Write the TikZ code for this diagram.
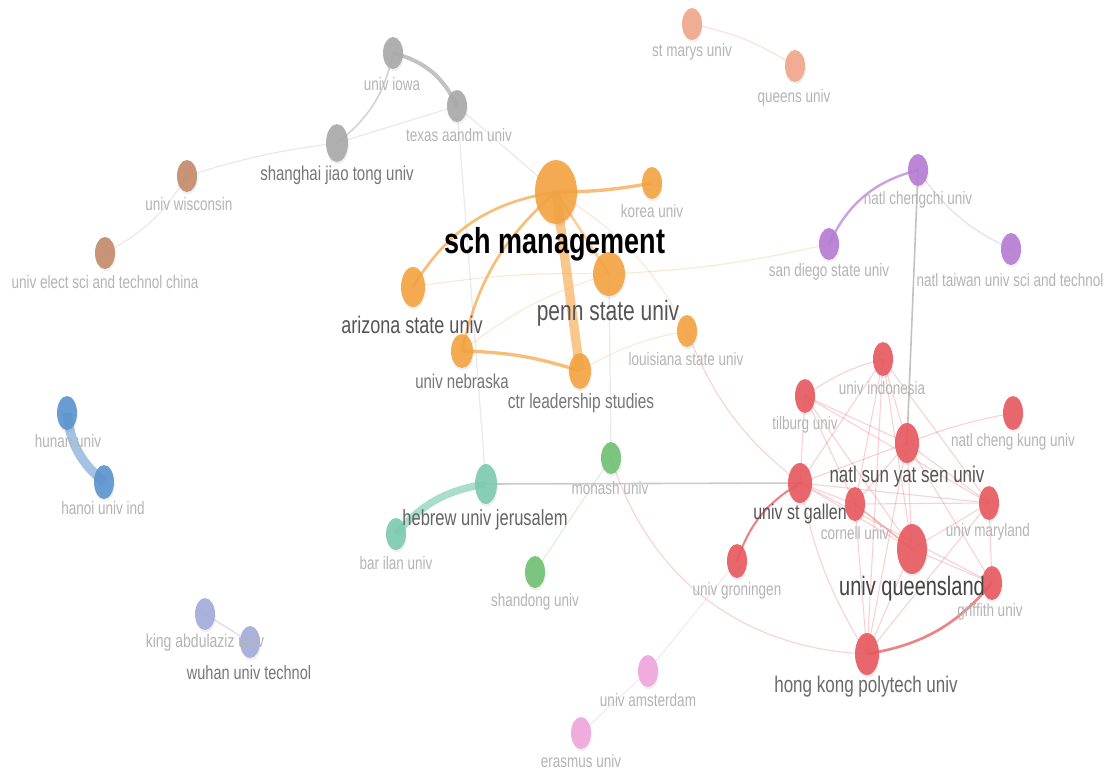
\documentclass[tikz,border=0pt]{standalone}
\usepackage{fontspec}
\setmainfont{Liberation Sans}[FakeStretch=0.75]
\usetikzlibrary{shapes.geometric,backgrounds,shadows}
\definecolor{cgray}{HTML}{A9A9A9}
\definecolor{cbrown}{HTML}{C48A6A}
\definecolor{csalmon}{HTML}{F2A68A}
\definecolor{corange}{HTML}{F4A340}
\definecolor{cpurple}{HTML}{B57BD3}
\definecolor{cblue}{HTML}{5B93CF}
\definecolor{cteal}{HTML}{7DCBB0}
\definecolor{cgreen}{HTML}{6FC172}
\definecolor{clav}{HTML}{A3ABDB}
\definecolor{cpink}{HTML}{EFA6DC}
\definecolor{cred}{HTML}{E8595F}
\definecolor{tlight}{HTML}{B4B4B4}
\definecolor{tmid}{HTML}{767676}
\definecolor{tdark}{HTML}{555555}
\begin{document}
\begin{tikzpicture}[x=0.75pt,y=-0.75pt,
  nd/.style={ellipse,inner sep=0pt,draw=none,fill opacity=0.9,
    drop shadow={shadow xshift=0.6pt,shadow yshift=-1.8pt,opacity=0.12}},
  sz/.style 2 args={minimum width=#1*1.5pt,minimum height=#2*1.5pt},
  lbl/.style={inner sep=0pt,text=tlight,font=\fontsize{13.5}{14}\selectfont},
  lblm/.style={inner sep=0pt,text=tmid,font=\fontsize{15}{16}\selectfont},
  lbld/.style={inner sep=0pt,text=tdark},
  eg/.style={draw=cgray,opacity=0.8,line width=1.2pt},
  egl/.style={draw=cgray,opacity=0.25,line width=0.9pt},
  eo/.style={draw=corange,opacity=0.7,line width=2pt},
  eol/.style={draw=corange,opacity=0.25,line width=0.8pt},
  er/.style={draw=cred,opacity=0.75,line width=1.6pt},
  erl/.style={draw=cred,opacity=0.28,line width=0.8pt},
]
\useasboundingbox (0,0) rectangle (1114,776);
% ---- nodes ----
\node[nd,fill=cgray,sz={10}{16}] (iowa) at (393,53) {};
\node[nd,fill=cgray,sz={10}{16}] (texas) at (457,106) {};
\node[nd,fill=cgray,sz={11}{19}] (shanghai) at (337,143) {};
\node[nd,fill=cbrown,sz={10}{16}] (wisc) at (187,176) {};
\node[nd,fill=cbrown,sz={10}{16}] (elect) at (105,253) {};
\node[nd,fill=csalmon,sz={10}{16}] (stmarys) at (692,24) {};
\node[nd,fill=csalmon,sz={10}{16}] (queens) at (795,66) {};
\node[nd,fill=corange,sz={21}{32}] (sch) at (556,192) {};
\node[nd,fill=corange,sz={10}{16}] (korea) at (652,183) {};
\node[nd,fill=corange,sz={12}{20}] (ari) at (413,287) {};
\node[nd,fill=corange,sz={16}{22}] (penn) at (609,274) {};
\node[nd,fill=corange,sz={10}{16}] (louis) at (687,331) {};
\node[nd,fill=corange,sz={11}{17}] (neb) at (462,351) {};
\node[nd,fill=corange,sz={11}{18}] (ctr) at (580,371) {};
\node[nd,fill=cpurple,sz={10}{16}] (chengchi) at (918,170) {};
\node[nd,fill=cpurple,sz={10}{16}] (sandiego) at (829,244) {};
\node[nd,fill=cpurple,sz={10}{16}] (taiwan) at (1011,249) {};
\node[nd,fill=cblue,sz={10}{17}] (hunan) at (67,413) {};
\node[nd,fill=cblue,sz={10}{17}] (hanoi) at (104,482) {};
\node[nd,fill=cteal,sz={11}{20}] (hebrew) at (486,484) {};
\node[nd,fill=cteal,sz={10}{16}] (barilan) at (396,534) {};
\node[nd,fill=cgreen,sz={10}{16}] (monash) at (611,458) {};
\node[nd,fill=cgreen,sz={10}{16}] (shandong) at (535,572) {};
\node[nd,fill=clav,sz={10}{16}] (king) at (205,614) {};
\node[nd,fill=clav,sz={10}{16}] (wuhan) at (250,642) {};
\node[nd,fill=cpink,sz={10}{16}] (amst) at (648,671) {};
\node[nd,fill=cpink,sz={10}{16}] (erasmus) at (581,733) {};
\node[nd,fill=cred,sz={10}{17}] (indon) at (883,359) {};
\node[nd,fill=cred,sz={10}{17}] (tilburg) at (805,396) {};
\node[nd,fill=cred,sz={10}{17}] (chengkung) at (1013,413) {};
\node[nd,fill=cred,sz={12}{20}] (sunyat) at (907,443) {};
\node[nd,fill=cred,sz={12}{20}] (stgallen) at (800,483) {};
\node[nd,fill=cred,sz={10}{17}] (cornell) at (855,504) {};
\node[nd,fill=cred,sz={10}{17}] (maryland) at (989,503) {};
\node[nd,fill=cred,sz={15}{25}] (queensland) at (912,549) {};
\node[nd,fill=cred,sz={10}{17}] (griffith) at (992,583) {};
\node[nd,fill=cred,sz={10}{17}] (groningen) at (737,561) {};
\node[nd,fill=cred,sz={12}{21}] (hongkong) at (867,654) {};
% ---- edges ----
\begin{scope}[on background layer]
\fill[white] (0,0) rectangle (1114,776);
\draw[eg,line width=3pt,opacity=0.7] (iowa.center) to[bend left=25] (texas.center);
\draw[eg,opacity=0.5] (shanghai.center) to[bend right=20] (iowa.center);
\draw[egl] (shanghai.center) -- (texas.center);
\draw[egl] (wisc.center) to[bend left=5] (shanghai.center);
\draw[egl] (elect.center) to[bend right=15] (wisc.center);
\draw[egl] (texas.center) -- (sch.center);
\draw[egl] (texas.center) -- (hebrew.center);
\draw[draw=csalmon,opacity=0.3,line width=1pt] (stmarys.center) to[bend left=10] (queens.center);
\draw[eo,line width=2.5pt] (sch.center) to[bend right=5] (korea.center);
\draw[eo] (sch.center) to[bend right=25] (ari.center);
\draw[eo] (sch.center) to[bend right=18] (neb.center);
\draw[eo,line width=7pt,opacity=0.6] (sch.center) -- (ctr.center);
\draw[eo,line width=2.5pt] (neb.center) to[bend left=8] (ctr.center);
\draw[eo,opacity=0.5] (sch.center) -- (penn.center);
\draw[eol] (neb.center) to[bend left=10] (penn.center);
\draw[eol] (ari.center) to[bend left=5] (penn.center);
\draw[eol] (sch.center) to[bend left=15] (louis.center);
\draw[eol] (ctr.center) to[bend left=10] (louis.center);
\draw[eol] (penn.center) to[bend right=5] (sandiego.center);
\draw[egl] (penn.center) -- (monash.center);
\draw[draw=cpurple,opacity=0.7,line width=1.8pt] (sandiego.center) to[bend left=25] (chengchi.center);
\draw[draw=cpurple,opacity=0.25,line width=1pt] (chengchi.center) to[bend right=15] (taiwan.center);
\draw[eg,opacity=0.7] (chengchi.center) -- (sunyat.center);
\draw[draw=cblue,opacity=0.55,line width=7pt] (hunan.center) to[bend right=22] (hanoi.center);
\draw[draw=cteal,opacity=0.65,line width=5.5pt] (barilan.center) to[bend left=20] (hebrew.center);
\draw[eg,opacity=0.6] (hebrew.center) -- (stgallen.center);
\draw[draw=cgreen,opacity=0.25,line width=0.8pt] (monash.center) -- (shandong.center);
\draw[erl] (monash.center) to[bend right=35] (hongkong.center);
\draw[draw=cpink,opacity=0.3,line width=0.8pt] (amst.center) -- (groningen.center);
\draw[draw=cpink,opacity=0.3,line width=0.8pt] (erasmus.center) -- (amst.center);
\draw[draw=clav,opacity=0.4,line width=1pt] (king.center) -- (wuhan.center);
\draw[erl] (louis.center) to[bend right=15] (stgallen.center);
% red cluster
\draw[er] (groningen.center) to[bend left=20] (stgallen.center);
\draw[er,line width=2pt] (hongkong.center) to[bend right=20] (griffith.center);
\draw[erl] (tilburg.center) to[bend left=10] (indon.center);
\draw[erl] (tilburg.center) -- (sunyat.center);
\draw[erl] (tilburg.center) -- (stgallen.center);
\draw[erl] (tilburg.center) -- (cornell.center);
\draw[erl] (tilburg.center) -- (maryland.center);
\draw[erl] (tilburg.center) -- (queensland.center);
\draw[erl] (indon.center) -- (stgallen.center);
\draw[erl] (indon.center) -- (sunyat.center);
\draw[erl] (indon.center) -- (cornell.center);
\draw[erl] (indon.center) -- (queensland.center);
\draw[erl] (indon.center) -- (hongkong.center);
\draw[erl] (indon.center) -- (maryland.center);
\draw[erl] (sunyat.center) to[bend left=5] (chengkung.center);
\draw[erl] (sunyat.center) -- (stgallen.center);
\draw[erl] (sunyat.center) -- (maryland.center);
\draw[erl] (sunyat.center) -- (griffith.center);
\draw[erl] (sunyat.center) -- (queensland.center);
\draw[erl] (sunyat.center) -- (hongkong.center);
\draw[erl] (sunyat.center) -- (cornell.center);
\draw[erl] (stgallen.center) -- (cornell.center);
\draw[erl] (stgallen.center) -- (maryland.center);
\draw[erl] (stgallen.center) -- (queensland.center);
\draw[erl] (stgallen.center) to[bend right=10] (hongkong.center);
\draw[erl] (stgallen.center) -- (griffith.center);
\draw[erl,opacity=0.45,line width=1.2pt] (cornell.center) -- (queensland.center);
\draw[erl] (cornell.center) -- (hongkong.center);
\draw[erl] (cornell.center) -- (maryland.center);
\draw[erl] (queensland.center) -- (griffith.center);
\draw[erl] (queensland.center) -- (maryland.center);
\draw[erl] (queensland.center) -- (hongkong.center);
\draw[erl] (maryland.center) -- (griffith.center);
\draw[erl] (maryland.center) -- (hongkong.center);
\end{scope}
% ---- labels ----
\node[lbl] (l-iowa) at (392,84) {univ iowa};
\node[lbl] (l-texas) at (459,135) {texas aandm univ};
\node[lblm] (l-shanghai) at (337,175) {shanghai jiao tong univ};
\node[lbl] (l-wisc) at (189,204) {univ wisconsin};
\node[lbl] (l-elect) at (105,282) {univ elect sci and technol china};
\node[lbl] (l-stmarys) at (692,52) {st marys univ};
\node[lbl] (l-queens) at (794,98) {queens univ};
\node[inner sep=0pt,text=black,font=\fontsize{27}{29}\selectfont\bfseries] (l-sch) at (555,244) {sch management};
\node[lbl] (l-korea) at (652,211) {korea univ};
\node[lbld,font=\fontsize{18}{20}\selectfont] (l-ari) at (412,325) {arizona state univ};
\node[lbld,font=\fontsize{21}{23}\selectfont] (l-penn) at (608,313) {penn state univ};
\node[lbl] (l-louis) at (686,359) {louisiana state univ};
\node[lblm] (l-neb) at (462,381) {univ nebraska};
\node[lblm,font=\fontsize{15.5}{16}\selectfont] (l-ctr) at (581,403) {ctr leadership studies};
\node[lbl] (l-chengchi) at (918,200) {natl chengchi univ};
\node[lbl] (l-sandiego) at (829,272) {san diego state univ};
\node[lbl] (l-taiwan) at (1010,280) {natl taiwan univ sci and technol};
\node[lbl] (l-hunan) at (68,441) {hunan univ};
\node[lbl] (l-hanoi) at (103,508) {hanoi univ ind};
\node[lbld,font=\fontsize{16.5}{18}\selectfont,text=tmid!85!black] (l-hebrew) at (485,520) {hebrew univ jerusalem};
\node[lbl] (l-barilan) at (396,563) {bar ilan univ};
\node[lbl] (l-monash) at (610,488) {monash univ};
\node[lbl] (l-shandong) at (535,602) {shandong univ};
\node[lbl,font=\fontsize{14}{15}\selectfont] (l-king) at (205,643) {king abdulaziz univ};
\node[lblm,font=\fontsize{14.5}{15}\selectfont] (l-wuhan) at (249,673) {wuhan univ technol};
\node[lbl] (l-amst) at (648,700) {univ amsterdam};
\node[lbl] (l-erasmus) at (581,761) {erasmus univ};
\node[lbl] (l-indon) at (882,388) {univ indonesia};
\node[lbl] (l-tilburg) at (805,425) {tilburg univ};
\node[lbl] (l-chengkung) at (1013,442) {natl cheng kung univ};
\node[lbld,font=\fontsize{17}{18}\selectfont] (l-sunyat) at (907,477) {natl sun yat sen univ};
\node[lbld,font=\fontsize{16}{17}\selectfont] (l-stgallen) at (800,514) {univ st gallen};
\node[lbl] (l-cornell) at (855,533) {cornell univ};
\node[lbl] (l-maryland) at (988,532) {univ maryland};
\node[lbld,font=\fontsize{20}{22}\selectfont,text=tdark!80!black] (l-queensland) at (912,589) {univ queensland};
\node[lbl] (l-griffith) at (990,612) {griffith univ};
\node[lbl] (l-groningen) at (737,591) {univ groningen};
\node[lbld,font=\fontsize{17}{18}\selectfont,text=tmid!90!black] (l-hongkong) at (866,687) {hong kong polytech univ};
\end{tikzpicture}
\end{document}
